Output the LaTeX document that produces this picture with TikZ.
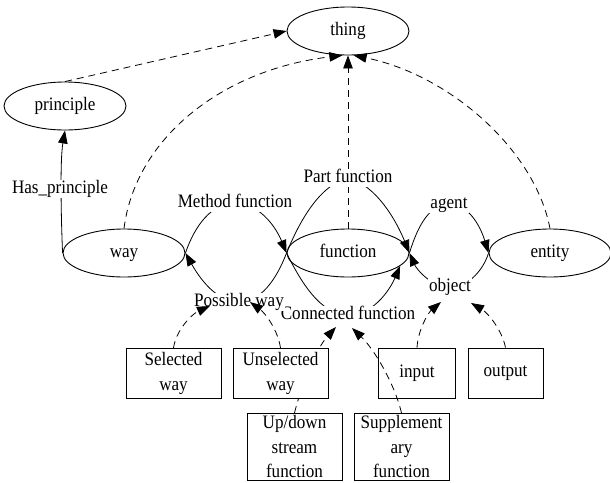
\documentclass[tikz,border=0pt]{standalone}
\usepackage{fontspec}
\setmainfont[FakeStretch=0.9]{Liberation Serif}
\usetikzlibrary{shapes.geometric,arrows.meta}
\pgfdeclarelayer{background}
\pgfsetlayers{background,main}
\begin{document}
\begin{tikzpicture}[x=1pt,y=-1pt,
  font=\fontsize{19}{25}\selectfont,
  ell/.style={ellipse, draw, line width=0.9pt, minimum width=122pt, minimum height=48pt, inner sep=0pt, text height=12.5pt, text depth=4.2pt},
  bx/.style={draw, line width=0.9pt, align=center, minimum width=95pt, minimum height=50pt, inner sep=0pt, fill=white},
  lbl/.style={fill=white, inner sep=1pt, text height=12.5pt, text depth=4.2pt},
  edge/.style={line width=0.8pt, -{Triangle[length=13pt,width=9.5pt]}},
  dedge/.style={edge, dash pattern=on 7pt off 5pt}]
\useasboundingbox (0,0) rectangle (610,482);
\clip (0,0) rectangle (610,482);
% main nodes
\node[ell] (thing) at (348,31) {thing};
\node[ell] (principle) at (65,106) {principle};
\node[ell] (way) at (124,253) {way};
\node[ell] (function) at (348,253) {function};
\node[ell] (entity) at (550,253) {entity};
% edge labels
\node[lbl] (hp) at (60,189) {Has\_principle};
\node[lbl] (mf) at (235,203) {Method function};
\node[lbl] (pf) at (348,178) {Part function};
\node[lbl] (ag) at (449,204) {agent};
\node[lbl] (ob) at (450,287) {object};
\node[lbl] (cf) at (348,315) {Connected function};
\node[lbl] (pw) at (239,302) {Possible way};
% boxes
\node[bx] (sel) at (173.5,373.5) {Selected\\way};
\node[bx] (unsel) at (280.5,373.5) {Unselected\\way};
\node[bx, minimum width=77pt] (inp) at (417,373) {input};
\node[bx, minimum width=75pt] (outp) at (505.5,373) {output};
\node[bx, anchor=north, minimum height=67pt, font=\fontsize{19}{24.5}\selectfont] (ud) at (294.5,413) {Up/down\\stream\\function};
\node[bx, anchor=north, minimum height=67pt, font=\fontsize{19}{24.5}\selectfont] (sup) at (401.5,413) {Supplement\\ary\\function};
% edges under labels and boxes
\begin{pgfonlayer}{background}
\draw[edge] (way.west) .. controls (61,215) and (60,160) .. (principle.south);
\draw[dedge] (function.north) -- (thing.south);
\draw[edge] (way.east) .. controls (195,225) and (212,203) .. (mf.center) .. controls (258,203) and (275,225) .. (function.west);
\draw[edge] (function.west) .. controls (300,220) and (320,185) .. (pf.center) .. controls (376,185) and (396,220) .. (function.east);
\draw[edge] (function.east) .. controls (418,225) and (430,204) .. (ag.center) .. controls (468,204) and (480,225) .. (entity.west);
\draw[edge] (entity.west) .. controls (484,268) and (470,287) .. (ob.center) .. controls (430,287) and (416,268) .. (function.east);
\draw[edge] (function.west) .. controls (280,270) and (265,302) .. (pw.center) .. controls (213,302) and (195,270) .. (way.east);
\draw[edge] (function.west) .. controls (300,280) and (320,315) .. (cf.center) .. controls (376,315) and (392,285) .. (function.-14);
\draw[dedge] (ud.north) .. controls (300,390) and (315,350) .. ([shift={(-12,12)}]cf.center);
\end{pgfonlayer}
% top edges
\draw[dedge] (principle.north) -- (thing.west);
\draw[dedge] (way.north) .. controls (135,140) and (220,70) .. (thing.257);
\draw[dedge] (entity.north) .. controls (535,150) and (450,75) .. (thing.283);
% dashed edges into labels
\draw[dedge] (sel.north) .. controls (176,330) and (192,314) .. ([shift={(-29,4)}]pw.center);
\draw[dedge] (unsel.north) .. controls (278,330) and (265,313) .. ([shift={(11,0)}]pw.center);
\draw[dedge] (sup.north) .. controls (395,385) and (375,350) .. ([shift={(4,13)}]cf.center);
\draw[dedge] (inp.north) .. controls (418,330) and (428,313) .. ([shift={(-9,15)}]ob.center);
\draw[dedge] (outp.north) .. controls (502,330) and (488,313) .. ([shift={(21,16)}]ob.center);
\end{tikzpicture}
\end{document}
